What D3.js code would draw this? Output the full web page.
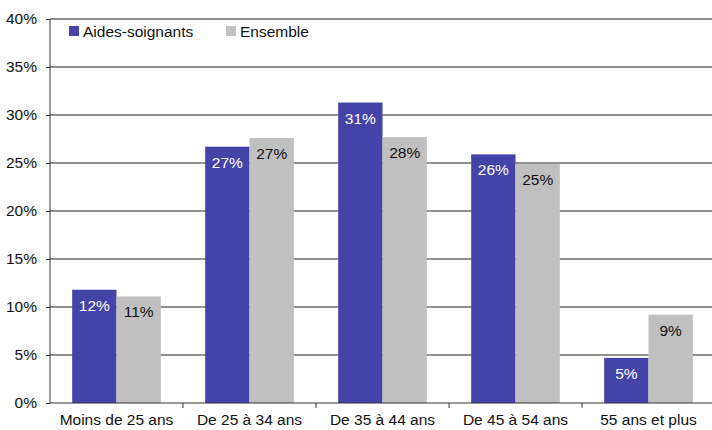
<!DOCTYPE html>
<html><head><meta charset="utf-8">
<script src="https://cdn.jsdelivr.net/npm/d3@7"></script>
<style>body{margin:0;background:#fff}svg{display:block;font-family:"Liberation Sans",Arial,sans-serif}</style>
</head><body><svg id="c" width="712" height="430"></svg>
<script>
const categories = ["Moins de 25 ans","De 25 à 34 ans","De 35 à 44 ans","De 45 à 54 ans","55 ans et plus"];
const seriesNames = ["Aides-soignants","Ensemble"];
const aides = [11.8, 26.7, 31.3, 25.9, 4.7];
const ensemble = [11.1, 27.6, 27.7, 24.9, 9.2];
const aidesLabels = ["12%","27%","31%","26%","5%"];
const ensembleLabels = ["11%","27%","28%","25%","9%"];
const yTicks = [0,5,10,15,20,25,30,35,40];
const colors = ["#4343A8","#C0C0C0"];
const labelColors = ["#fff","#111"];
const FS = 15.5;

const svg = d3.select("#c");
const x0 = d3.scaleBand().domain(categories).range([50,715]).paddingInner(0).paddingOuter(0);
const x1 = d3.scaleBand().domain(seriesNames).range([0,x0.bandwidth()]).paddingInner(0).paddingOuter(0.5);
const y = d3.scaleLinear().domain([0,40]).range([403,19]);

// gridlines
svg.append("g").selectAll("line").data(yTicks.filter(d=>d>0)).join("line")
  .attr("x1",50).attr("x2",712).attr("y1",d=>y(d)).attr("y2",d=>y(d))
  .attr("stroke","#222").attr("stroke-width",1.2);

const data = categories.map((c,i)=>({c, vals:[aides[i],ensemble[i]], labs:[aidesLabels[i],ensembleLabels[i]]}));
const g = svg.append("g").selectAll("g").data(data).join("g").attr("transform",d=>`translate(${x0(d.c)},0)`);
seriesNames.forEach((s,si)=>{
  g.append("rect").attr("x",x1(s)).attr("width",x1.bandwidth())
    .attr("y",d=>y(d.vals[si])).attr("height",d=>y(0)-y(d.vals[si])).attr("fill",colors[si]);
  g.append("text").attr("x",x1(s)+x1.bandwidth()/2).attr("y",d=>y(d.vals[si])+21)
    .attr("text-anchor","middle").attr("font-size",FS).attr("fill",labelColors[si]).text(d=>d.labs[si]);
});

// y axis
const ya = svg.append("g").attr("transform","translate(50,0)")
  .call(d3.axisLeft(y).tickValues(yTicks).tickFormat(d=>d+"%").tickSize(4).tickPadding(9));
ya.select(".domain").attr("stroke","#333").attr("d","M0,19V403");
ya.selectAll(".tick line").attr("stroke","#333");
ya.selectAll("text").attr("font-size",FS).attr("fill","#111").attr("font-family","Liberation Sans, Arial, sans-serif");

// x axis
const xa = svg.append("g").attr("transform","translate(0,403)");
xa.append("line").attr("x1",50).attr("x2",712).attr("stroke","#333").attr("stroke-width",1.2);
xa.selectAll("line.t").data(categories.slice(1)).join("line").attr("class","t")
  .attr("x1",d=>x0(d)).attr("x2",d=>x0(d)).attr("y1",0).attr("y2",5).attr("stroke","#333");
xa.selectAll("text").data(categories).join("text")
  .attr("x",d=>x0(d)+x0.bandwidth()/2).attr("y",22).attr("text-anchor","middle")
  .attr("font-size",FS).attr("fill","#111").text(d=>d);

// legend
const lg = svg.append("g");
const lx = [69,226];
seriesNames.forEach((s,i)=>{
  lg.append("rect").attr("x",lx[i]).attr("y",26).attr("width",10).attr("height",10).attr("fill",colors[i]);
  lg.append("text").attr("x",lx[i]+14).attr("y",37).attr("font-size",FS).attr("fill","#111").text(s);
});
</script></body></html>
